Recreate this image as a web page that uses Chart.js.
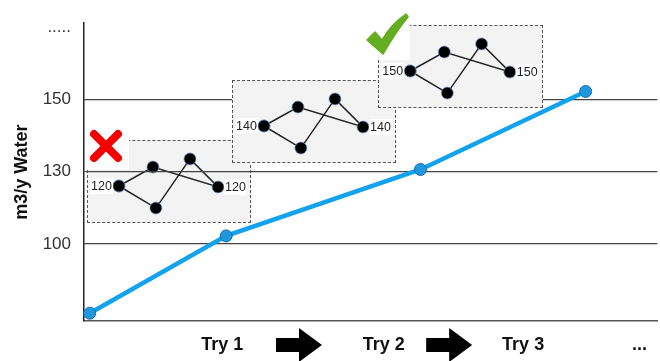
<!DOCTYPE html>
<html><head><meta charset="utf-8">
<script src="https://cdn.jsdelivr.net/npm/chart.js@4.4.1/dist/chart.umd.min.js"></script>
<style>
html,body{margin:0;padding:0;background:#fff;}
#wrap{position:relative;width:660px;height:361px;overflow:hidden;background:#fff;}
#main{position:absolute;left:0;top:0;z-index:3;}
.inset{position:absolute;box-sizing:border-box;border:1px dashed #555;background:#f3f3f3;}
.inset canvas{position:absolute;left:-1px;top:-1px;}
.icon{position:absolute;background:#fff;}
</style></head>
<body><div id="wrap">
<div class="inset" style="left:87px;top:140px;width:164px;height:83px;z-index:1"><canvas id="c1" width="164" height="83"></canvas></div>
<svg class="icon" style="left:86px;top:125px;z-index:2" width="43" height="44" viewBox="0 0 43 44">
  <path d="M8 9 L32 33 M32 9 L8 33" stroke="#f40000" stroke-width="8" stroke-linecap="round" fill="none"/>
</svg>
<canvas id="main" width="660" height="361"></canvas>
<div class="inset" style="left:232px;top:80px;width:164px;height:83px;z-index:4"><canvas id="c2" width="164" height="83"></canvas></div>
<div class="inset" style="left:378px;top:25px;width:165px;height:83px;z-index:5"><canvas id="c3" width="165" height="83"></canvas></div>
<svg class="icon" style="left:364px;top:10px;z-index:6" width="46" height="50" viewBox="0 0 46 50">
  <path d="M3 30 L11 22 L18 30 Q27 14 42 4 L44 7 Q33 20 19 44 Z" fill="#63ad20" stroke="#63ad20" stroke-width="1.5" stroke-linejoin="round"/>
</svg>
</div>
<script>
// ---- main chart data ----
const tryLabels   = ['Try 1', 'Try 2', 'Try 3', '...'];
const tryLabelPos = [24.1, 52.3, 76.6, 96.9];
const arrowPos    = [37.5, 63.7];
const yTickLabels = ['100', '130', '150', '.....'];
const yTickPos    = [1, 2, 3, 4];
const waterX      = [1.0, 24.8, 58.7, 87.5];
const waterLevel  = [0.04, 1.11, 2.03, 3.11];

// ---- inset mini chart data (A, B, C, D, E) ----
const insetX = [1.95, 4.02, 4.2, 6.28, 7.99];
const insetY = [2.23, 3.37, 0.9, 3.86, 2.17];
const insetPathOrder = [0, 2, 3, 4, 1, 0];
const insetLabels = ['120', '140', '150'];

Chart.defaults.font.family = "'Liberation Sans', Arial, sans-serif";

const arrowPlugin = {
  id: 'arrows',
  afterDraw(chart) {
    const xs = chart.scales.x, ctx = chart.ctx;
    ctx.save();
    ctx.fillStyle = '#000';
    arrowPos.forEach(p => {
      const cx = xs.getPixelForValue(p), cy = 345;
      ctx.beginPath();
      ctx.moveTo(cx - 23, cy - 7);
      ctx.lineTo(cx, cy - 7);
      ctx.lineTo(cx, cy - 17);
      ctx.lineTo(cx + 23, cy);
      ctx.lineTo(cx, cy + 17);
      ctx.lineTo(cx, cy + 7);
      ctx.lineTo(cx - 23, cy + 7);
      ctx.closePath();
      ctx.fill();
    });
    ctx.restore();
  }
};

new Chart(document.getElementById('main'), {
  type: 'line',
  data: {
    datasets: [{
      data: waterX.map((x, i) => ({x: x, y: waterLevel[i]})),
      borderColor: '#12a2ee',
      borderWidth: 4.5,
      pointRadius: 6,
      pointBackgroundColor: '#1f98dd',
      pointBorderColor: '#1670b0',
      pointBorderWidth: 1,
      tension: 0,
      clip: false
    }]
  },
  options: {
    responsive: false,
    animation: false,
    devicePixelRatio: 1,
    layout: {autoPadding: false, padding: {top: 20, right: 0, left: 0, bottom: 0}},
    plugins: {legend: {display: false}, tooltip: {enabled: false}},
    scales: {
      x: {
        type: 'linear', min: 0, max: 100,
        afterBuildTicks: s => { s.ticks = tryLabelPos.map(v => ({value: v})); },
        afterFit: s => { s.height = 40; },
        ticks: {
          autoSkip: false, maxRotation: 0, padding: 13,
          font: {size: 18, weight: 'bold'}, color: '#111',
          callback: (v, i) => tryLabels[i]
        },
        grid: {display: true, color: 'rgba(0,0,0,0)', drawTicks: false},
        border: {display: true, color: '#555', width: 1.5}
      },
      y: {
        type: 'linear', min: -0.068, max: 4.055,
        afterBuildTicks: s => { s.ticks = yTickPos.map(v => ({value: v})); },
        afterFit: s => { s.width = 84; },
        ticks: {
          autoSkip: false, padding: 13,
          font: {size: 17}, color: '#333',
          callback: (v, i) => yTickLabels[i]
        },
        grid: {
          drawTicks: false, lineWidth: 1.2,
          color: c => (c.tick && c.tick.value === 4) ? 'rgba(0,0,0,0)' : '#444'
        },
        border: {display: true, color: '#222', width: 1.5},
        title: {
          display: true, text: 'm3/y Water',
          font: {size: 18, weight: 'bold'}, color: '#111',
          padding: {top: 11, bottom: 0}
        }
      }
    }
  },
  plugins: [arrowPlugin]
});

function makeInset(id, label) {
  const labelPlugin = {
    id: 'endLabels',
    afterDatasetsDraw(chart) {
      const pts = chart.getDatasetMeta(0).data;
      const ctx = chart.ctx;
      const a = pts[0], e = pts[3];
      ctx.save();
      ctx.font = "12.5px 'Liberation Sans', Arial, sans-serif";
      ctx.textBaseline = 'middle';
      const w = ctx.measureText(label).width;
      ctx.fillStyle = '#fff';
      ctx.fillRect(a.x - 7 - w - 1, a.y - 8, w + 2, 16);
      ctx.fillRect(e.x + 6, e.y - 8, w + 2, 16);
      ctx.fillStyle = '#222';
      ctx.textAlign = 'right';
      ctx.fillText(label, a.x - 7, a.y + 1);
      ctx.textAlign = 'left';
      ctx.fillText(label, e.x + 7, e.y + 1);
      ctx.restore();
    }
  };
  new Chart(document.getElementById(id), {
    type: 'line',
    data: {
      datasets: [{
        data: insetPathOrder.map(i => ({x: insetX[i], y: insetY[i]})),
        borderColor: '#222',
        borderWidth: 1.5,
        pointRadius: 6,
        pointBackgroundColor: '#000',
        pointBorderColor: 'rgba(120,160,210,0.7)',
        pointBorderWidth: 1,
        tension: 0,
        clip: false
      }]
    },
    options: {
      responsive: false, animation: false, devicePixelRatio: 1,
      layout: {autoPadding: false, padding: 0},
      plugins: {legend: {display: false}, tooltip: {enabled: false}},
      scales: {
        x: {type: 'linear', display: false, min: 0, max: 10},
        y: {type: 'linear', display: false, min: 0, max: 5}
      }
    },
    plugins: [labelPlugin]
  });
}
makeInset('c1', insetLabels[0]);
makeInset('c2', insetLabels[1]);
makeInset('c3', insetLabels[2]);
</script>
</body></html>
